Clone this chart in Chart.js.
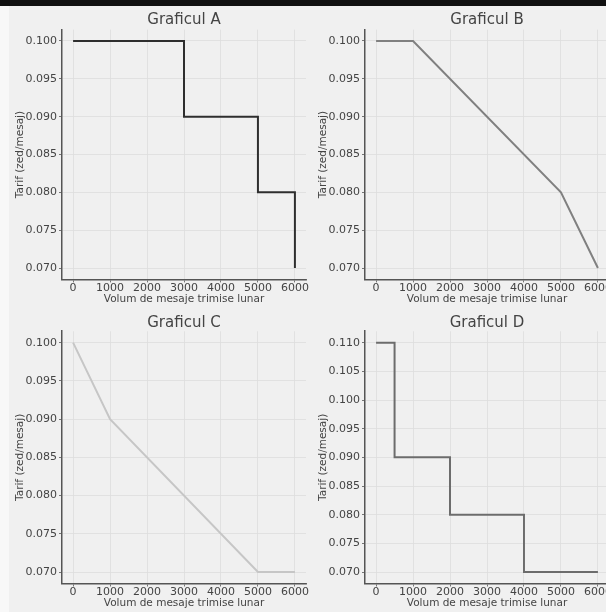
<!DOCTYPE html>
<html>
<head>
<meta charset="utf-8">
<script src="https://cdn.jsdelivr.net/npm/chart.js@4/dist/chart.umd.min.js"></script>
<style>
  html, body { margin: 0; padding: 0; width: 606px; height: 612px; overflow: hidden; background: #f0f0f0; }
  #topbar { position: absolute; left: 0; top: 0; width: 606px; height: 6px; background: #111; z-index: 5; }
  #strip { position: absolute; left: 0; top: 6px; width: 9px; height: 606px; background: #f8f8f8; }
  canvas { position: absolute; }
</style>
</head>
<body>
<div id="strip"></div>
<canvas id="chartA" width="330" height="306" style="left:0;top:0"></canvas>
<canvas id="chartB" width="330" height="306" style="left:303px;top:0"></canvas>
<canvas id="chartC" width="330" height="306" style="left:0;top:306px"></canvas>
<canvas id="chartD" width="330" height="306" style="left:303px;top:306px"></canvas>
<div id="topbar"></div>
<script>
// Data
const volumeTicks = [0, 1000, 2000, 3000, 4000, 5000, 6000];
const tarifTicks = [0.070, 0.075, 0.080, 0.085, 0.090, 0.095, 0.100];
const tarifTicksD = [0.070, 0.075, 0.080, 0.085, 0.090, 0.095, 0.100, 0.105, 0.110];

const volumeA = [0, 3000, 5000, 6000];
const tarifA = [0.100, 0.090, 0.080, 0.070];
const volumeB = [0, 1000, 5000, 6000];
const tarifB = [0.100, 0.100, 0.080, 0.070];
const volumeC = [0, 1000, 5000, 6000];
const tarifC = [0.100, 0.090, 0.070, 0.070];
const volumeD = [0, 500, 2000, 4000, 6000];
const tarifD = [0.110, 0.090, 0.080, 0.070, 0.070];

const titles = ['Graficul A', 'Graficul B', 'Graficul C', 'Graficul D'];
const xLabel = 'Volum de mesaje trimise lunar';
const yLabel = 'Tarif (zed/mesaj)';

const FONT = 'DejaVu Sans';
const textColor = '#444';

function makeChart(id, title, xs, ys, opts) {
    const ctx = document.getElementById(id).getContext('2d');
    return new Chart(ctx, {
        type: 'line',
        data: {
            datasets: [{
                data: xs.map((x, i) => ({ x: x, y: ys[i] })),
                borderColor: opts.color,
                borderWidth: 2,
                pointRadius: 0,
                stepped: opts.stepped,
                tension: 0,
                fill: false
            }]
        },
        options: {
            responsive: false,
            animation: false,
            layout: { padding: { left: 0, right: 24, top: 0, bottom: 0 } },
            plugins: {
                legend: { display: false },
                tooltip: { enabled: false },
                title: {
                    display: true, text: title, fullSize: false, color: textColor,
                    font: { family: FONT, size: 15, weight: 'normal' },
                    padding: opts.titlePad
                }
            },
            scales: {
                x: {
                    type: 'linear', min: -300, max: 6300,
                    afterBuildTicks: a => { a.ticks = volumeTicks.map(v => ({ value: v })); },
                    afterFit: a => { a.height = opts.xHeight; },
                    ticks: { callback: v => String(v), color: textColor, font: { family: FONT, size: 11 }, padding: -1, maxRotation: 0, autoSkip: false },
                    grid: { color: '#dddddd', lineWidth: 0.8, tickColor: '#555', tickLength: 3 },
                    border: { color: '#555', width: 1.5 },
                    title: { display: true, text: xLabel, color: textColor, font: { family: FONT, size: 10.5 }, padding: { top: 0, bottom: opts.xTitlePad } }
                },
                y: {
                    type: 'linear', min: opts.yMin, max: opts.yMax,
                    afterBuildTicks: a => { a.ticks = opts.yTicks.map(v => ({ value: v })); },
                    afterFit: a => { a.width = 62; },
                    ticks: { callback: v => v.toFixed(3), color: textColor, font: { family: FONT, size: 11 }, padding: 2, autoSkip: false },
                    grid: { color: '#dddddd', lineWidth: 0.8, tickColor: '#555', tickLength: 3 },
                    border: { color: '#555', width: 1.5 },
                    title: { display: true, text: yLabel, color: textColor, font: { family: FONT, size: 10.5 }, padding: { top: 13.7, bottom: 0 } }
                }
            }
        }
    });
}

const topRow = { titlePad: { top: 11, bottom: 0.6 }, xHeight: 26.6, xTitlePad: 0 };
const bottomRow = { titlePad: { top: 8.5, bottom: -1.3 }, xHeight: 28.5, xTitlePad: 2.7 };

// 'before' = horizontal run first, then the drop
makeChart('chartA', titles[0], volumeA, tarifA, Object.assign({ color: '#2e2e2e', stepped: 'before', yTicks: tarifTicks, yMin: 0.0685, yMax: 0.1015 }, topRow));
makeChart('chartB', titles[1], volumeB, tarifB, Object.assign({ color: '#808080', stepped: false, yTicks: tarifTicks, yMin: 0.0685, yMax: 0.1015 }, topRow));
makeChart('chartC', titles[2], volumeC, tarifC, Object.assign({ color: '#c6c6c6', stepped: false, yTicks: tarifTicks, yMin: 0.0685, yMax: 0.1015 }, bottomRow));
makeChart('chartD', titles[3], volumeD, tarifD, Object.assign({ color: '#6c6c6c', stepped: 'before', yTicks: tarifTicksD, yMin: 0.068, yMax: 0.112 }, bottomRow));
</script>
</body>
</html>
